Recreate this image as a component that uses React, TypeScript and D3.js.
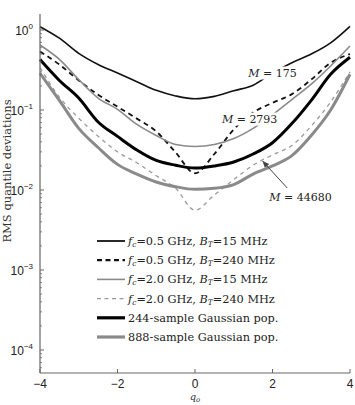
import React, { useLayoutEffect, useRef, useState } from "react";
import * as d3 from "d3";

// Normalized offset grid q_o
const qValues = [-4, -3.5, -3, -2.5, -2, -1.5, -1, -0.5, 0, 0.5, 1, 1.5, 2, 2.5, 3, 3.5, 4];

// RMS quantile deviations per configuration
const rmsF05B15 = [1.1, 0.79, 0.51, 0.37, 0.29, 0.226, 0.176, 0.15, 0.138, 0.148, 0.174, 0.204, 0.29, 0.39, 0.5, 0.69, 1.11];
const rmsF05B240 = [0.537, 0.37, 0.234, 0.155, 0.11, 0.078, 0.054, 0.0295, 0.0162, 0.0282, 0.057, 0.093, 0.123, 0.158, 0.24, 0.39, 0.5];
const rmsF20B15 = [0.65, 0.43, 0.24, 0.141, 0.102, 0.066, 0.048, 0.037, 0.035, 0.037, 0.044, 0.059, 0.087, 0.135, 0.21, 0.355, 0.63];
const rmsF20B240 = [0.339, 0.145, 0.079, 0.047, 0.03, 0.0219, 0.0151, 0.0105, 0.0056, 0.0087, 0.0135, 0.0204, 0.0275, 0.036, 0.063, 0.126, 0.3];
const rmsGauss244 = [0.427, 0.234, 0.141, 0.0708, 0.0468, 0.0316, 0.0234, 0.0204, 0.0188, 0.02, 0.0224, 0.0282, 0.039, 0.0676, 0.132, 0.28, 0.457];
const rmsGauss888 = [0.288, 0.132, 0.059, 0.034, 0.0209, 0.0158, 0.0126, 0.011, 0.0102, 0.0105, 0.0117, 0.0158, 0.02, 0.0269, 0.048, 0.1, 0.28];

const xTicks = [-4, -2, 0, 2, 4];
const yDecades = [-4, -3, -2, -1, 0];

type SeriesStyle = { color: string; width: number; dash?: string; legendWidth: number; legendDash?: string };

const series: { key: string; values: number[]; style: SeriesStyle }[] = [
  { key: "f05b15", values: rmsF05B15, style: { color: "#111", width: 1.6, legendWidth: 1.8 } },
  { key: "f05b240", values: rmsF05B240, style: { color: "#111", width: 1.8, dash: "5,4", legendWidth: 2.2, legendDash: "5,3.5" } },
  { key: "f20b15", values: rmsF20B15, style: { color: "#8a8a8a", width: 1.6, legendWidth: 1.6 } },
  { key: "f20b240", values: rmsF20B240, style: { color: "#9a9a9a", width: 1.3, dash: "4,4", legendWidth: 1.4, legendDash: "4,3.5" } },
  { key: "g244", values: rmsGauss244, style: { color: "#000", width: 3, legendWidth: 3.2 } },
  { key: "g888", values: rmsGauss888, style: { color: "#8a8a8a", width: 3, legendWidth: 3.2 } },
];

const W = 355;
const H = 405;
const left = 40;
const right = 350;
const top = 14;
const bottom = 373;

const x = d3.scaleLinear().domain([-4, 4]).range([left, right]);
const y = d3.scaleLog().domain([Math.pow(10, -4.2875), Math.pow(10, 0.2)]).range([bottom, top]);

const serif = "'DejaVu Serif', 'Liberation Serif', serif";
const sans = "'Liberation Sans', Arial, sans-serif";

function LabelBox({ qx, v, children }: { qx: number; v: number; children: React.ReactNode }) {
  const ref = useRef<SVGTextElement>(null);
  const [box, setBox] = useState<{ x: number; y: number; w: number; h: number } | null>(null);
  useLayoutEffect(() => {
    if (ref.current) {
      const b = ref.current.getBBox();
      setBox({ x: b.x - 2, y: b.y, w: b.width + 4, h: b.height });
    }
  }, []);
  return (
    <g>
      {box && <rect x={box.x} y={box.y} width={box.w} height={box.h} fill="#fff" />}
      <text ref={ref} x={x(qx)} y={y(v)} textAnchor="middle" dominantBaseline="central" fontFamily={serif} fontSize={11} fill="#222">
        {children}
      </text>
    </g>
  );
}

function MLabel({ qx, v, m }: { qx: number; v: number; m: string }) {
  return (
    <LabelBox qx={qx} v={v}>
      <tspan fontStyle="italic">M</tspan>
      <tspan> = {m}</tspan>
    </LabelBox>
  );
}

const sub = (s: string) => (
  <>
    <tspan fontSize={7.5} dy={2} fontStyle="italic">{s}</tspan>
  </>
);

const legendItems: React.ReactNode[] = [
  <>
    <tspan fontStyle="italic">f</tspan>{sub("c")}
    <tspan dy={-2}>=0.5 GHz, </tspan><tspan fontStyle="italic">B</tspan>{sub("T")}
    <tspan dy={-2}>=15 MHz</tspan>
  </>,
  <>
    <tspan fontStyle="italic">f</tspan>{sub("c")}
    <tspan dy={-2}>=0.5 GHz, </tspan><tspan fontStyle="italic">B</tspan>{sub("T")}
    <tspan dy={-2}>=240 MHz</tspan>
  </>,
  <>
    <tspan fontStyle="italic">f</tspan>{sub("c")}
    <tspan dy={-2}>=2.0 GHz, </tspan><tspan fontStyle="italic">B</tspan>{sub("T")}
    <tspan dy={-2}>=15 MHz</tspan>
  </>,
  <>
    <tspan fontStyle="italic">f</tspan>{sub("c")}
    <tspan dy={-2}>=2.0 GHz, </tspan><tspan fontStyle="italic">B</tspan>{sub("T")}
    <tspan dy={-2}>=240 MHz</tspan>
  </>,
  <>244-sample Gaussian pop.</>,
  <>888-sample Gaussian pop.</>,
];

export default function App() {
  const line = d3
    .line<number>()
    .x((_, i) => x(qValues[i]))
    .y((d) => y(d))
    .curve(d3.curveMonotoneX);

  const minorTicks: number[] = [];
  const [lo, hi] = y.domain();
  for (let e = -5; e <= 0; e++) {
    for (let k = 2; k <= 9; k++) {
      const v = k * Math.pow(10, e);
      if (v >= lo && v <= hi) minorTicks.push(v);
    }
  }

  const arrowFrom = { q: 2.38, v: 0.0106 };
  const arrowTo = { q: 1.75, v: 0.0228 };

  return (
    <svg width={W} height={H} style={{ position: "absolute", left: 0, top: 0, background: "#fff" }}>
      <defs>
        <marker id="arrowHead" viewBox="0 0 10 10" refX="9" refY="5" markerWidth="7" markerHeight="7" orient="auto-start-reverse">
          <path d="M0,1 L10,5 L0,9 z" fill="#444" />
        </marker>
      </defs>
      <rect width={W} height={H} fill="#fff" />

      {/* curves */}
      {series.map((s) => (
        <path
          key={s.key}
          d={line(s.values) || ""}
          fill="none"
          stroke={s.style.color}
          strokeWidth={s.style.width}
          strokeDasharray={s.style.dash}
          strokeLinejoin="round"
        />
      ))}

      {/* annotations */}
      <MLabel qx={2.0} v={0.29} m="175" />
      <MLabel qx={1.41} v={0.077} m="2793" />
      <MLabel qx={2.72} v={0.0082} m="44680" />
      <line
        x1={x(arrowFrom.q)}
        y1={y(arrowFrom.v)}
        x2={x(arrowTo.q)}
        y2={y(arrowTo.v)}
        stroke="#444"
        strokeWidth={1}
        markerEnd="url(#arrowHead)"
      />

      {/* legend */}
      {series.map((s, i) => {
        const ly = 241 + i * 19.2;
        return (
          <g key={"lg" + s.key}>
            <line x1={97} x2={125} y1={ly} y2={ly} stroke={s.style.color} strokeWidth={s.style.legendWidth} strokeDasharray={s.style.legendDash} />
            <text x={128} y={ly + 4} fontFamily={serif} fontSize={11.3} fill="#222">
              {legendItems[i]}
            </text>
          </g>
        );
      })}

      {/* axes */}
      <g stroke="#666" fill="none">
        <line x1={left} x2={left} y1={top} y2={bottom} strokeWidth={1.2} />
        <line x1={left} x2={right} y1={bottom} y2={bottom} strokeWidth={1.2} />
        {yDecades.map((e) => (
          <line key={"yt" + e} x1={left} x2={left + 4} y1={y(Math.pow(10, e))} y2={y(Math.pow(10, e))} />
        ))}
        {minorTicks.map((v, i) => (
          <line key={"ym" + i} x1={left} x2={left + 2} y1={y(v)} y2={y(v)} strokeWidth={0.8} />
        ))}
        {xTicks.map((t) => (
          <line key={"xt" + t} x1={x(t)} x2={x(t)} y1={bottom} y2={bottom - 4} />
        ))}
      </g>
      {yDecades.map((e) => (
        <text key={"yl" + e} x={left - 7} y={y(Math.pow(10, e)) + 5} textAnchor="end" fontFamily={sans} fontSize={12} fill="#222">
          10<tspan fontSize={8} dy={-6}>{e < 0 ? "\u2212" + Math.abs(e) : String(e)}</tspan>
        </text>
      ))}
      {xTicks.map((t) => (
        <text key={"xl" + t} x={x(t)} y={bottom + 15} textAnchor="middle" fontFamily={sans} fontSize={12} fill="#222">
          {t < 0 ? "\u2212" + Math.abs(t) : String(t)}
        </text>
      ))}
      <text x={x(0)} y={bottom + 27} textAnchor="middle" fontFamily={serif} fontSize={10} fontStyle="italic" fill="#333">
        q<tspan fontSize={7} dy={1.5}>o</tspan>
      </text>
      <text
        transform={`translate(11, ${171}) rotate(-90)`}
        textAnchor="middle"
        fontFamily={serif}
        fontSize={11.5}
        fill="#333"
      >
        RMS quantile deviations
      </text>
    </svg>
  );
}
